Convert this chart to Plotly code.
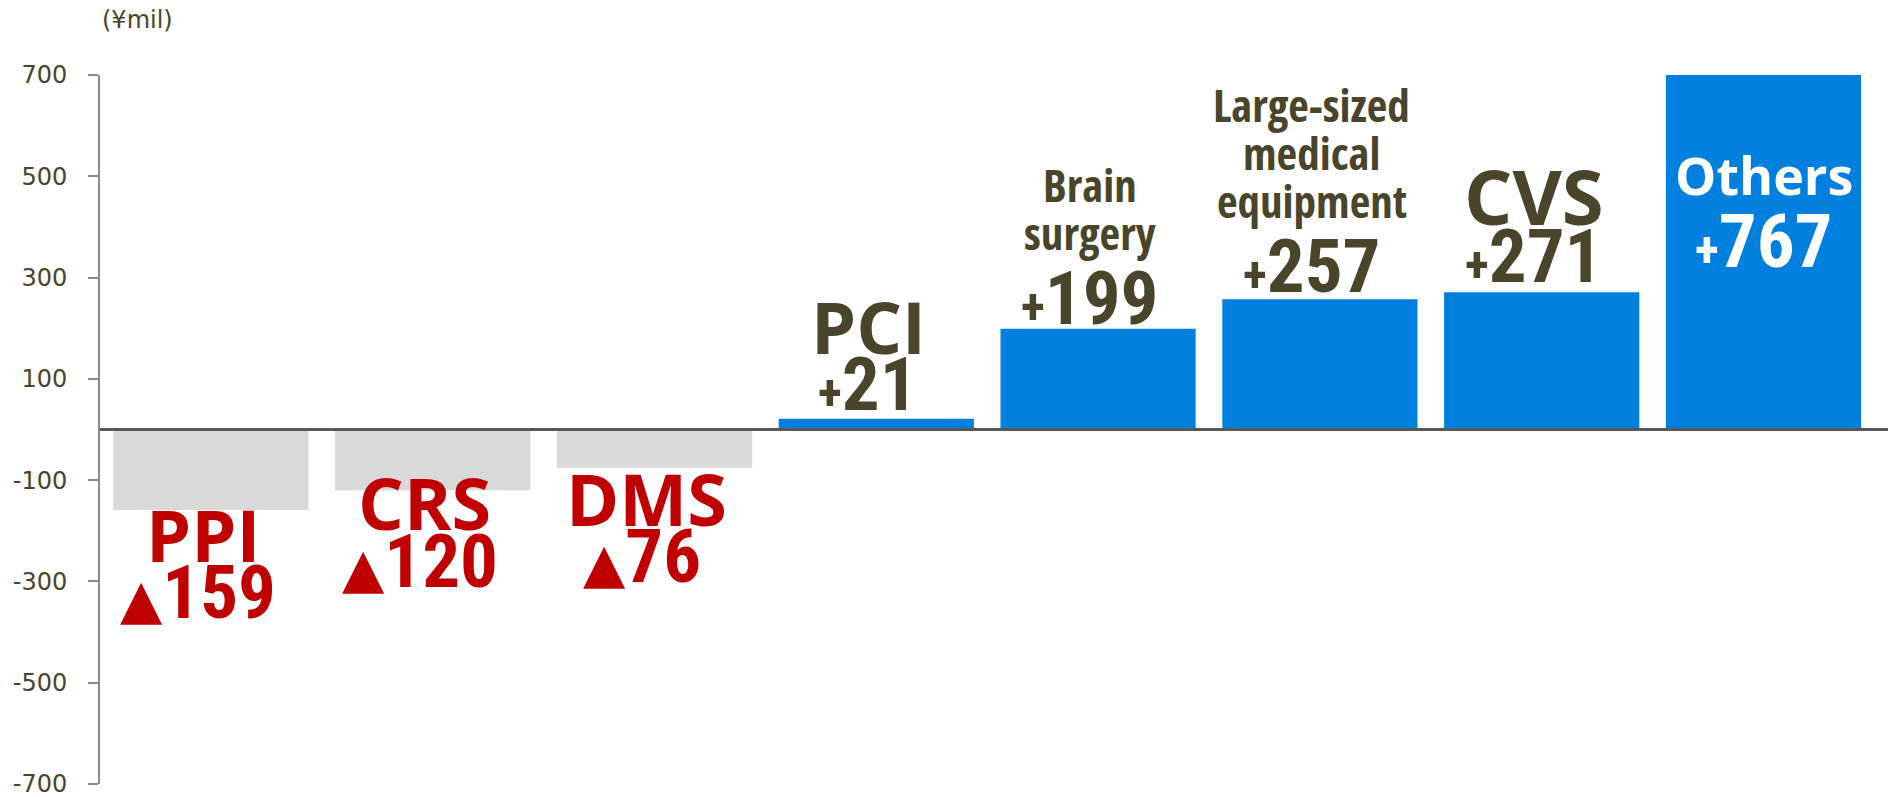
import plotly.graph_objects as go

# ---- data -------------------------------------------------------------
categories = ["PPI", "CRS", "DMS", "PCI", "Brain surgery",
              "Large-sized medical equipment", "CVS", "Others"]
changes = [-159, -120, -76, 21, 199, 257, 271, 767]          # ¥ million
y_tick_values = [-700, -500, -300, -100, 100, 300, 500, 700]
y_tick_labels = ["-700", "-500", "-300", "-100", "100", "300", "500", "700"]
unit_label = "(¥mil)"

# ---- styling ----------------------------------------------------------
OLIVE = "#4A452A"
RED = "#C00000"
BLUE = "#0080DE"
GREY = "#D9D9D9"
AXIS_GREY = "#8A8A8A"
TICK_FONT = "DejaVu Sans, Verdana, sans-serif"

# (family, css stretch, (ascent - descent)/2 in em)
NAME_BIG = ("Open Sans", "", 0.388)
NAME_SMALL = ("Open Sans", "font-stretch:75%", 0.388)
NUMBER = ("Roboto Condensed", "", 0.3415)

W, H = 1888, 797
M_T, M_B, M_L, M_R = 75, 13, 100, 0
Y_MIN, Y_MAX = -700, 700
CAT_PITCH_PX = 221.8
BAR_WIDTH = 0.88

BIG = 72        # short category names
NUM = 75        # value labels
SMALL = 45      # multi-word category names

# distance (px) from the bar end to the closest label baseline
LABEL_GAP = [52, 40, 58, 9, 5, 8, 11, 0]
NAME_NUM_GAP = 56
MULTI_NUM_GAP = 73.5
MULTI_LINE_STEP = 48
X_NUDGE = -8
X_NUDGE_NEG_NUM = -13

plot_w = W - M_L - M_R
x_range = [-0.5, -0.5 + plot_w / CAT_PITCH_PX]

bar_colors = [GREY if v < 0 else BLUE for v in changes]

fig = go.Figure()
fig.add_trace(go.Bar(
    x=categories, y=changes, width=BAR_WIDTH,
    marker=dict(color=bar_colors, line=dict(width=0)),
    hovertemplate="%{x}: %{y}<extra></extra>",
))


def number_text(v):
    if v < 0:
        return ('<span style="font-family:DejaVu Sans;font-size:55px">▲</span>'
                f"{abs(v)}")
    return f'<span style="font-size:50px">+</span>{v}'


annotations = []


def add_line(x, y, yref, text, size, spec, color, baseline, xshift):
    family, stretch, k = spec
    annotations.append(dict(
        x=x, y=y, xref="x", yref=yref,
        text=f'<b><span style="{stretch}">{text}</span></b>',
        showarrow=False, xanchor="center", yanchor="middle",
        font=dict(size=size, family=family, color=color),
        yshift=k * size - baseline, xshift=xshift,
    ))


for i, (cat, v) in enumerate(zip(categories, changes)):
    words = cat.split(" ")
    if v < 0:
        name_base = LABEL_GAP[i]
        add_line(cat, v, "y", cat, BIG, NAME_BIG, RED, name_base, X_NUDGE)
        add_line(cat, v, "y", number_text(v), NUM, NUMBER, RED,
                 name_base + NAME_NUM_GAP, X_NUDGE_NEG_NUM)
    elif v > Y_MAX:
        # label sits inside a bar that runs past the top of the axis
        num_base = 192
        add_line(cat, 1, "paper", number_text(v), NUM, NUMBER, "white", num_base, 0)
        add_line(cat, 1, "paper", cat, 52, NAME_BIG, "white", num_base - 72.7, 0)
    else:
        num_base = -LABEL_GAP[i]
        add_line(cat, v, "y", number_text(v), NUM, NUMBER, OLIVE, num_base, X_NUDGE)
        if len(words) == 1:
            size = 76 if cat == "CVS" else BIG
            add_line(cat, v, "y", cat, size, NAME_BIG, OLIVE,
                     num_base - NAME_NUM_GAP, X_NUDGE)
        else:
            base = num_base - MULTI_NUM_GAP
            for w in reversed(words):
                add_line(cat, v, "y", w, SMALL, NAME_SMALL, OLIVE, base, X_NUDGE)
                base -= MULTI_LINE_STEP

# unit caption above the value axis
annotations.append(dict(
    x=0, y=1, xref="paper", yref="paper", text=unit_label, showarrow=False,
    xanchor="left", yanchor="middle", yshift=55,
    font=dict(size=24, family=TICK_FONT, color=OLIVE),
))

fig.update_layout(
    width=W, height=H,
    margin=dict(t=M_T, b=M_B, l=M_L, r=M_R, pad=0),
    plot_bgcolor="white", paper_bgcolor="white",
    showlegend=False,
    annotations=annotations,
    shapes=[dict(type="line", xref="paper", yref="y", x0=0, x1=1, y0=0, y1=0,
                 line=dict(color="#595959", width=3), layer="above")],
    xaxis=dict(visible=False, range=x_range, fixedrange=True),
    yaxis=dict(
        range=[Y_MIN, Y_MAX], tickmode="array",
        tickvals=y_tick_values, ticktext=y_tick_labels,
        showgrid=False, zeroline=False,
        showline=True, linecolor=AXIS_GREY, linewidth=2,
        ticks="outside", ticklen=10, tickwidth=2, tickcolor=AXIS_GREY,
        tickfont=dict(size=24, family=TICK_FONT, color=OLIVE),
        ticklabelstandoff=16, ticklabeloverflow="allow", fixedrange=True,
    ),
)

fig.write_html("out.html")
